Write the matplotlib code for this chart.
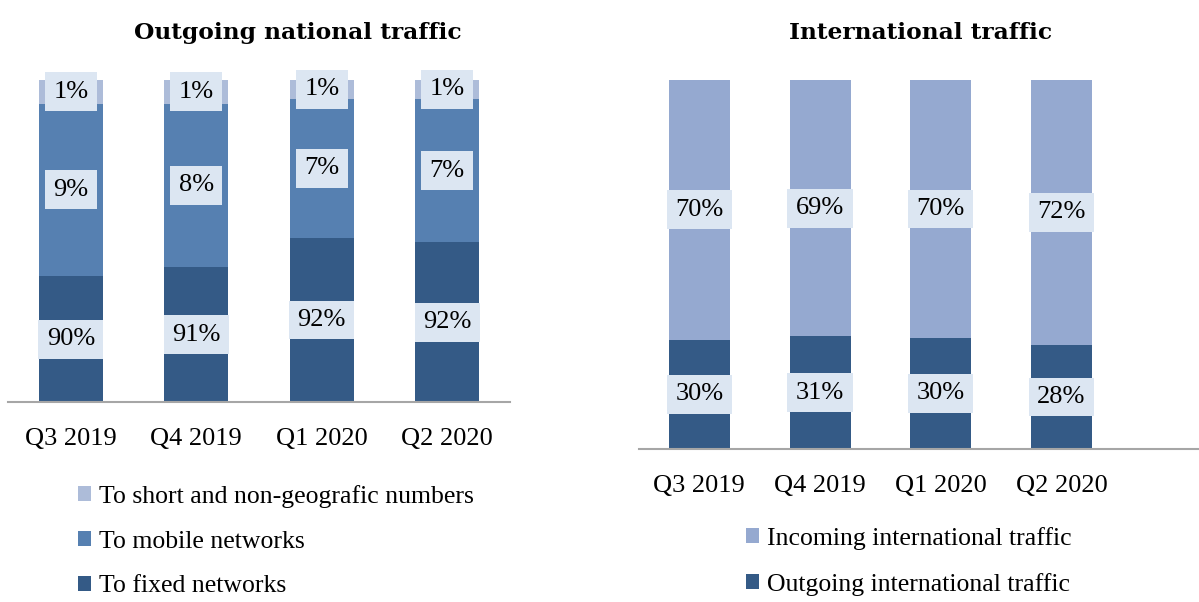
import matplotlib
matplotlib.use("Agg")
import matplotlib.pyplot as plt
import numpy as np

plt.rcParams['font.family'] = ['Liberation Serif', 'DejaVu Serif']

categories = ["Q3 2019", "Q4 2019", "Q1 2020", "Q2 2020"]

# Left chart: drawn segment heights (as they appear) and printed labels
nat_fixed = [39.2, 41.9, 51.1, 49.6]
nat_mobile = [53.5, 50.8, 43.1, 44.6]
nat_short = [7.3, 7.3, 5.8, 5.8]
nat_fixed_lbl = ["90%", "91%", "92%", "92%"]
nat_mobile_lbl = ["9%", "8%", "7%", "7%"]
nat_short_lbl = ["1%", "1%", "1%", "1%"]

# Right chart
int_out = [29.6, 30.5, 30.1, 28.2]
int_in = [70.4, 69.5, 69.9, 71.8]
int_out_lbl = ["30%", "31%", "30%", "28%"]
int_in_lbl = ["70%", "69%", "70%", "72%"]

c_short = "#ADBCD9"
c_mobile = "#5680B1"
c_fixed = "#345A86"
c_in = "#95A9D0"
c_out = "#345A86"
box_col = "#DCE6F2"
axis_col = "#A6A6A6"
FS = 19

W, H = 1199, 602
fig = plt.figure(figsize=(W / 100, H / 100), dpi=100)

def px_axes(left, right, top, bottom):
    return fig.add_axes([left / W, 1 - bottom / H, (right - left) / W, (bottom - top) / H])

def style(ax):
    for s in ["top", "right", "left"]:
        ax.spines[s].set_visible(False)
    ax.spines["bottom"].set_color(axis_col)
    ax.spines["bottom"].set_linewidth(1.5)
    ax.set_yticks([])
    ax.tick_params(axis="x", length=0, labelsize=FS, pad=18.5)
    ax.set_ylim(0, 100)

def label(ax, x, y, s):
    ax.text(x, y, s, ha="center", va="center", fontsize=FS, color="black",
            bbox=dict(boxstyle="square,pad=0.32", fc=box_col, ec="none"), clip_on=False, zorder=5)

x = np.arange(len(categories))

# Left
ax1 = px_axes(8, 510, 80, 402.3)
style(ax1)
bw1 = 0.51
b_f = ax1.bar(x, nat_fixed, bw1, color=c_fixed, label="To fixed networks")
b_m = ax1.bar(x, nat_mobile, bw1, bottom=nat_fixed, color=c_mobile, label="To mobile networks")
bot2 = np.array(nat_fixed) + np.array(nat_mobile)
b_s = ax1.bar(x, nat_short, bw1, bottom=bot2, color=c_short, label="To short and non-geografic numbers")
ax1.set_xlim(-0.5, 3.5)
ax1.set_xticks(x)
ax1.set_xticklabels(categories)
for i in range(len(x)):
    label(ax1, x[i], nat_fixed[i] / 2, nat_fixed_lbl[i])
    label(ax1, x[i], nat_fixed[i] + nat_mobile[i] / 2, nat_mobile_lbl[i])
    label(ax1, x[i], bot2[i] + nat_short[i] / 2, nat_short_lbl[i])

# Right
ax2 = px_axes(639, 1199, 80, 449)
style(ax2)
bw2 = 0.505
r_o = ax2.bar(x, int_out, bw2, color=c_out, label="Outgoing international traffic")
r_i = ax2.bar(x, int_in, bw2, bottom=int_out, color=c_in, label="Incoming international traffic")
ax2.set_xlim(-0.5, -0.5 + 560 / 120.7)
ax2.set_xticks(x)
ax2.set_xticklabels(categories)
for i in range(len(x)):
    label(ax2, x[i], int_out[i] / 2, int_out_lbl[i])
    label(ax2, x[i], int_out[i] + int_in[i] / 2, int_in_lbl[i])

# Titles
title_kw = dict(ha="center", va="center", fontsize=16.8, fontweight="bold",
                family=["DejaVu Serif"])
fig.text(298 / W, 1 - 33 / H, "Outgoing national traffic", **title_kw)
fig.text(921 / W, 1 - 33 / H, "International traffic", **title_kw)

# Legends
leg_kw = dict(frameon=False, fontsize=18.5, handlelength=0.52, handleheight=0.52,
              handletextpad=0.3, labelspacing=0.88, borderpad=0, borderaxespad=0,
              loc="upper left")
fig.legend([b_s, b_m, b_f], ["To short and non-geografic numbers", "To mobile networks",
                             "To fixed networks"],
           bbox_to_anchor=(78 / W, 1 - 485 / H), **leg_kw)
fig.legend([r_i, r_o], ["Incoming international traffic", "Outgoing international traffic"],
           bbox_to_anchor=(746 / W, 1 - 527 / H), **leg_kw)

fig.savefig("out.png", dpi=100)
